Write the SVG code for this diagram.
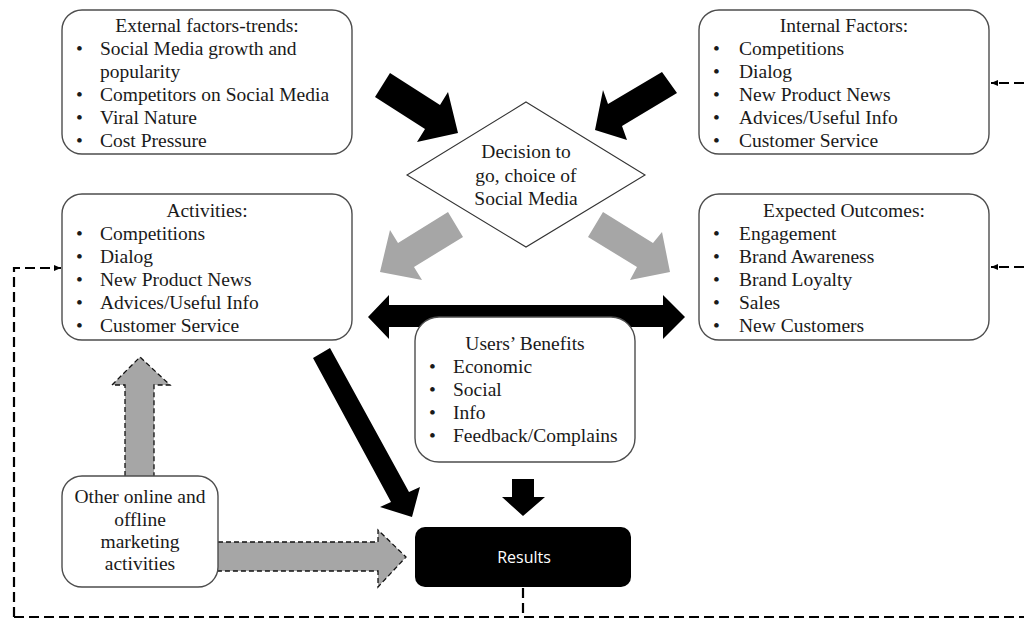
<svg xmlns="http://www.w3.org/2000/svg" width="1024" height="619" viewBox="0 0 1024 619">
  <defs>
    <style>
      .box { fill: #ffffff; stroke: #4d4d4d; stroke-width: 1.4; }
      .diamond { fill: #ffffff; stroke: #333333; stroke-width: 1.1; }
      .t { font-family: "Liberation Serif", "Times New Roman", serif; font-size: 19.5px; fill: #1a1a1a; }
      .c { text-anchor: middle; }
      .blk { fill: #000000; }
      .gry { fill: #a6a6a6; }
      .gryd { fill: #a6a6a6; stroke: #111111; stroke-width: 1.3; stroke-dasharray: 5 3; }
      .dash { fill: none; stroke: #000000; stroke-width: 2.2; stroke-dasharray: 10 5; }
      .res { font-family: "Open Sans", "Liberation Sans", Arial, sans-serif; font-size: 16px; fill: #ffffff; }
    </style>
    <marker id="tip" markerWidth="8" markerHeight="8" refX="7" refY="4" orient="auto" markerUnits="userSpaceOnUse">
      <path d="M0,1 L7,4 L0,7 Z" fill="#000000"/>
    </marker>
  </defs>

  <!-- connectors -->
  <g id="connectors">
    <!-- feedback loops (dashed) -->
    <path class="dash" d="M523,588 V617"/>
    <path class="dash" d="M14,617 H1024"/>
    <path class="dash" d="M14,617 V268 H61" marker-end="url(#tip)"/>
    <path class="dash" d="M1024,83 H991" marker-end="url(#tip)"/>
    <path class="dash" d="M1024,267 H991" marker-end="url(#tip)"/>

    <!-- inputs into the decision -->
    <polygon class="blk" points="390,73 440,105 448,92 458,133 417,142 425,129 375,97"/>
    <polygon class="blk" points="662,72 608,104 603,90 595,130 627,140 622,126 677,93"/>

    <!-- decision outputs -->
    <polygon class="gry" points="448,212 398,243 390,230 380,272 422,280 414,267 463,237"/>
    <polygon class="gry" points="603,212 653,243 662,232 670,272 630,280 637,267 588,237"/>

    <!-- two-way link between activities and outcomes -->
    <polygon class="blk" points="368,317 389,295 389,305 663,305 663,295 685,317 663,339 663,327 389,327 389,339"/>

    <!-- towards results -->
    <polygon class="blk" points="330,348 409,492 420,487 412,517 380,507 391,502 313,358"/>
    <polygon class="blk" points="512,479 534,479 534,497 545,497 523,516 502,497 512,497"/>

    <!-- other marketing activities -->
    <path class="gryd" d="M125,476 V385 H112 L140,357 L170,385 H154 V476"/>
    <path class="gryd" d="M218,542 H378 V530 L406,557 L378,587 V571 H218"/>
  </g>

  <!-- external factors -->
  <g id="external">
    <rect class="box" x="62" y="10" width="290" height="144" rx="20"/>
    <text class="t c" x="207" y="32">External factors-trends:</text>
    <text class="t" x="76" y="55">•</text><text class="t" x="100" y="55">Social Media growth and</text>
    <text class="t" x="100" y="78">popularity</text>
    <text class="t" x="76" y="101">•</text><text class="t" x="100" y="101">Competitors on Social Media</text>
    <text class="t" x="76" y="124">•</text><text class="t" x="100" y="124">Viral Nature</text>
    <text class="t" x="76" y="147">•</text><text class="t" x="100" y="147">Cost Pressure</text>
  </g>

  <!-- internal factors -->
  <g id="internal">
    <rect class="box" x="699" y="10" width="290" height="144" rx="20"/>
    <text class="t c" x="844" y="32">Internal Factors:</text>
    <text class="t" x="713" y="55">•</text><text class="t" x="739" y="55">Competitions</text>
    <text class="t" x="713" y="78">•</text><text class="t" x="739" y="78">Dialog</text>
    <text class="t" x="713" y="101">•</text><text class="t" x="739" y="101">New Product News</text>
    <text class="t" x="713" y="124">•</text><text class="t" x="739" y="124">Advices/Useful Info</text>
    <text class="t" x="713" y="147">•</text><text class="t" x="739" y="147">Customer Service</text>
  </g>

  <!-- decision -->
  <g id="decision">
    <polygon class="diamond" points="526,102 645,175 526,247 407,175"/>
    <text class="t c" x="526" y="158">Decision to</text>
    <text class="t c" x="526" y="182">go, choice of</text>
    <text class="t c" x="526" y="205">Social Media</text>
  </g>

  <!-- activities -->
  <g id="activities">
    <rect class="box" x="62" y="194" width="290" height="146" rx="20"/>
    <text class="t c" x="207" y="217">Activities:</text>
    <text class="t" x="76" y="240">•</text><text class="t" x="100" y="240">Competitions</text>
    <text class="t" x="76" y="263">•</text><text class="t" x="100" y="263">Dialog</text>
    <text class="t" x="76" y="286">•</text><text class="t" x="100" y="286">New Product News</text>
    <text class="t" x="76" y="309">•</text><text class="t" x="100" y="309">Advices/Useful Info</text>
    <text class="t" x="76" y="332">•</text><text class="t" x="100" y="332">Customer Service</text>
  </g>

  <!-- expected outcomes -->
  <g id="outcomes">
    <rect class="box" x="699" y="194" width="290" height="146" rx="20"/>
    <text class="t c" x="844" y="217">Expected Outcomes:</text>
    <text class="t" x="713" y="240">•</text><text class="t" x="739" y="240">Engagement</text>
    <text class="t" x="713" y="263">•</text><text class="t" x="739" y="263">Brand Awareness</text>
    <text class="t" x="713" y="286">•</text><text class="t" x="739" y="286">Brand Loyalty</text>
    <text class="t" x="713" y="309">•</text><text class="t" x="739" y="309">Sales</text>
    <text class="t" x="713" y="332">•</text><text class="t" x="739" y="332">New Customers</text>
  </g>

  <!-- users' benefits -->
  <g id="benefits">
    <rect class="box" x="415" y="317" width="220" height="145" rx="24"/>
    <text class="t c" x="525" y="350">Users’ Benefits</text>
    <text class="t" x="429" y="373">•</text><text class="t" x="453" y="373">Economic</text>
    <text class="t" x="429" y="396">•</text><text class="t" x="453" y="396">Social</text>
    <text class="t" x="429" y="419">•</text><text class="t" x="453" y="419">Info</text>
    <text class="t" x="429" y="442">•</text><text class="t" x="453" y="442">Feedback/Complains</text>
  </g>

  <!-- other marketing activities -->
  <g id="other">
    <rect class="box" x="62" y="476" width="156" height="111" rx="20"/>
    <text class="t c" x="140" y="503">Other online and</text>
    <text class="t c" x="140" y="526">offline</text>
    <text class="t c" x="140" y="548">marketing</text>
    <text class="t c" x="140" y="570">activities</text>
  </g>

  <!-- results -->
  <g id="results">
    <rect x="415" y="527" width="216" height="60" rx="10" fill="#000000"/>
    <text class="res c" x="524" y="563">Results</text>
  </g>
</svg>
